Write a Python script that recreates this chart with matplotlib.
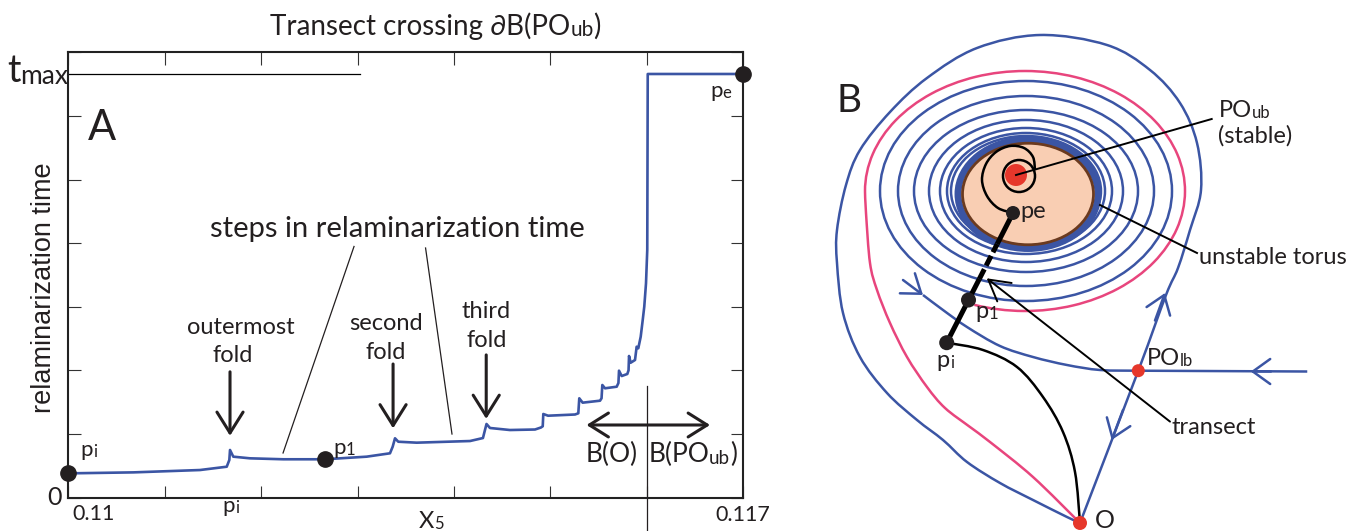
import numpy as np
import matplotlib
matplotlib.use('Agg')
import matplotlib.pyplot as plt
from matplotlib.patches import Ellipse, Arc, PathPatch, Circle
from matplotlib.path import Path

FONT = ['Lato', 'DejaVu Sans']
plt.rcParams['font.family'] = FONT

BLUE = '#3b55a4'
PINK = '#e8457d'
RED = '#e6372b'
DARK = '#231f20'
TORUS_FILL = '#f9ceb3'
TORUS_EDGE = '#6b3a1f'

# ---------------- Panel A data ----------------
x5 = [0.110000, 0.110018, 0.110675, 0.111366, 0.111643, 0.111670, 0.111677, 0.111711,
      0.111884, 0.112230, 0.112662, 0.113094, 0.113336, 0.113364, 0.113388, 0.113422,
      0.113613, 0.114166, 0.114300, 0.114321, 0.114337, 0.114373, 0.114580, 0.114840,
      0.114902, 0.114920, 0.114926, 0.114975, 0.115255, 0.115289, 0.115299, 0.115334,
      0.115514, 0.115530, 0.115538, 0.115566, 0.115687, 0.115705, 0.115711, 0.115739,
      0.115797, 0.115810, 0.115815, 0.115832, 0.115877, 0.115894, 0.115911, 0.115936,
      0.115957, 0.115973, 0.115991, 0.116004, 0.116009, 0.117000]
t_relam = [0.379, 0.380, 0.395, 0.432, 0.484, 0.590, 0.747, 0.642,
           0.616, 0.601, 0.601, 0.642, 0.695, 0.799, 0.931, 0.877,
           0.862, 0.888, 0.935, 1.061, 1.156, 1.093, 1.061, 1.069,
           1.101, 1.120, 1.313, 1.286, 1.305, 1.324, 1.560, 1.491,
           1.522, 1.560, 1.769, 1.717, 1.742, 1.800, 1.994, 1.910,
           1.942, 2.000, 2.225, 2.119, 2.162, 2.371, 2.346, 2.528,
           2.791, 3.000, 3.368, 3.892, 6.659, 6.659]
x_lim = (0.110, 0.117)
y_lim = (0, 7)
x_ticks = [0.110, 0.111, 0.112, 0.113, 0.114, 0.115, 0.116, 0.117]
y_ticks = [0, 1, 2, 3, 4, 5, 6, 7]
t_max = 6.659
tmax_line_end = 0.113025
pt_i = (0.110, 0.379)
pt_1 = (0.112662, 0.605)
pt_e = (0.117, 6.659)
fold_x = [0.111677, 0.113368, 0.114334]
fold_top = [1.976, 2.099, 2.242]
fold_tip = [0.970, 1.087, 1.236]
fold_words = [('outermost', 'fold'), ('second', 'fold'), ('third', 'fold')]
fold_text_x = [(0.111785, 0.111705), (0.113298, 0.113288), (0.114334, 0.114334)]
fold_text_y = [(2.577, 2.125), (2.630, 2.178), (2.818, 2.365)]
basin_boundary = 0.116
basin_arrow = (0.115374, 0.116655, 1.140)
steps_leaders = [((0.112963, 3.947), (0.112227, 0.700)),
                 ((0.113705, 3.923), (0.113979, 0.998))]

# ---------------- Panel B schematic geometry (pixel-like units) ----------------
ring_rx = [146, 128, 112, 97, 86, 79, 75]
ring_ry = [110, 95, 81, 71, 63, 58, 55]
ring_center = (1026, 191)
torus_center = (1028, 194)
torus_size = (131, 101.5)
band_size = (140, 109)
pink_center = (1025, 191)
pink_size = (320, 240)
pink_tail = [(865, 191), (866, 213), (870, 263), (877, 290), (890, 323), (907, 357),
             (927, 387), (945, 408), (970, 427), (990, 442), (1033, 477), (1080, 523)]
outer_loop = [(1080, 523), (1138.3, 370.7), (1166, 295), (1178, 268), (1190, 230),
              (1201, 190), (1197, 143), (1180, 103), (1150, 70), (1107, 45), (1040, 35),
              (977, 48), (927, 78), (890, 112), (860, 150), (846, 185), (837, 230),
              (837, 263), (843, 313), (860, 357), (887, 393), (917, 420), (943, 440),
              (967, 462), (1000, 483), (1033, 500), (1067, 517), (1080, 523)]
stable_in = [(923, 295), (943, 310), (967, 327), (1000, 346), (1033, 357), (1067, 365),
             (1100, 370), (1138.3, 370.7)]
stable_right = [(1138.3, 370.7), (1306, 371.5)]
pi_to_O = [(946.7, 342.7), (983, 350), (1017, 367), (1043, 397), (1063, 432),
           (1075, 472), (1080, 523)]
spiral = [(1013, 213), (998, 208), (987, 196), (982, 180), (986, 164), (996, 152),
          (1010, 146), (1024, 148), (1033, 157), (1035, 170)]
inner_circle = (1019, 176, 16)
PO_ub = (1016, 175)
PO_lb = (1138.3, 370.7)
O_pt = (1080, 523)
B_pi = (946.7, 342.7)
B_p1 = (968.5, 300)
B_pe = (1013, 213)
dash_a = (979.3, 279)
dash_b = (997.2, 244)
# (tip, point behind the tip along the flow)
flow_arrows = [((923, 295), (903, 280)), ((1250.7, 371.5), (1271, 371.5)),
               ((1165, 293), (1155, 320.5)), ((1111.7, 440), (1123, 410))]

W, H = 1350, 531
fig = plt.figure(figsize=(13.5, 5.31), dpi=100)


def fbox(l, t, r, b):
    return [l / W, 1 - b / H, (r - l) / W, (b - t) / H]


def smooth(pts):
    P = np.asarray(pts, float)
    n = len(P)
    verts = [P[0]]
    codes = [Path.MOVETO]
    for i in range(n - 1):
        p0 = P[i - 1] if i > 0 else P[i]
        p1, p2 = P[i], P[i + 1]
        p3 = P[i + 2] if i + 2 < n else P[i + 1]
        verts += [p1 + (p2 - p0) / 6, p2 - (p3 - p1) / 6, p2]
        codes += [Path.CURVE4] * 3
    return Path(verts, codes)


def ptext(ax, x, y, parts, transform=None, color=DARK):
    prev = None
    for s, size in parts:
        if prev is None:
            prev = ax.text(x, y, s, fontsize=size, ha='left', va='baseline',
                           transform=transform if transform is not None else ax.transData,
                           clip_on=False, color=color)
        else:
            prev = ax.annotate(s, xy=(1, 0), xycoords=prev, fontsize=size, ha='left',
                               va='bottom', annotation_clip=False, color=color)
    return prev


# overlay in pixel coords for outside text
ov = fig.add_axes([0, 0, 1, 1])
ov.set_xlim(0, W)
ov.set_ylim(H, 0)
ov.axis('off')

ptext(ov, 270, 35, [('Transect crossing \u2202B(PO', 20), ('ub', 15), (')', 20)])
ptext(ov, 7, 81.7, [('t', 27), ('max', 19)])
ov.text(54, 505, '0', fontsize=18, ha='center', va='baseline', color=DARK)
ov.text(72, 520, '0.11', fontsize=15.5, ha='left', va='baseline', color=DARK)
ov.text(715, 521, '0.117', fontsize=15.5, ha='left', va='baseline', color=DARK)
ptext(ov, 222.7, 512, [('p', 16), ('i', 12)])
ptext(ov, 419, 528, [('X', 17), ('5', 12)])
ov.text(44, 287.5, 'relaminarization time', rotation=90, family='Liberation Sans',
        fontsize=19.5, ha='center', va='center', color=DARK)

# ---------------- Panel A ----------------
axA = fig.add_axes(fbox(68.3, 52.3, 743.3, 497.5))
axA.set_xlim(*x_lim)
axA.set_ylim(*y_lim)
axA.set_xticks(x_ticks)
axA.set_yticks(y_ticks)
axA.set_xticklabels([])
axA.set_yticklabels([])
axA.tick_params(direction='in', length=9, width=0.8, top=True, right=True, color='#333333')
for sp in axA.spines.values():
    sp.set_linewidth(1.5)
    sp.set_color('#222222')

axA.plot(x5, t_relam, color=BLUE, lw=1.9, zorder=3)
axA.plot([x_lim[0], tmax_line_end], [t_max, t_max], color='k', lw=0.9)
for p in (pt_i, pt_1, pt_e):
    axA.plot(*p, 'o', ms=11, color=DARK, zorder=5, clip_on=False)

axA.text(0.110352, 5.62, 'A', fontsize=30, ha='center', va='baseline', color=DARK)
ptext(axA, 0.110122, 0.652, [('p', 16), ('i', 12)])
ptext(axA, 0.112747, 0.684, [('p', 16), ('1', 12)])
ptext(axA, 0.116654, 6.297, [('p', 16), ('e', 12)])

axA.text(0.113408, 4.096, 'steps in relaminarization time', fontsize=21, ha='center',
         va='baseline', color=DARK)
for (a, b) in steps_leaders:
    axA.plot([a[0], b[0]], [a[1], b[1]], color=DARK, lw=0.9)

for fx, ft, ftip, words, tx, ty in zip(fold_x, fold_top, fold_tip, fold_words,
                                       fold_text_x, fold_text_y):
    axA.annotate('', xy=(fx, ftip), xytext=(fx, ft),
                 arrowprops=dict(arrowstyle='->, head_length=15, head_width=9.4',
                                 mutation_scale=1, lw=2.2, color=DARK,
                                 shrinkA=0, shrinkB=0))
    axA.text(tx[0], ty[0], words[0], fontsize=17, ha='center', va='baseline', color=DARK)
    axA.text(tx[1], ty[1], words[1], fontsize=17, ha='center', va='baseline', color=DARK)

axA.plot([basin_boundary, basin_boundary], [1.753, -0.56], color=DARK, lw=0.9,
         clip_on=False)
axA.annotate('', xy=(basin_arrow[1], basin_arrow[2]), xytext=(basin_arrow[0], basin_arrow[2]),
             arrowprops=dict(arrowstyle='<->, head_length=13.7, head_width=8.6',
                             mutation_scale=1, lw=2.2, color=DARK, shrinkA=0, shrinkB=0))
axA.text(0.115631, 0.558, 'B(O)', fontsize=19, ha='center', va='baseline', color=DARK)
ptext(axA, 0.116015, 0.558, [('B(PO', 19), ('ub', 13.5), (')', 19)])

# ---------------- Panel B ----------------
axB = fig.add_axes([790 / W, 0, 560 / W, 1])
axB.set_xlim(790, 1350)
axB.set_ylim(531, 0)
axB.axis('off')

LW = 1.8
axB.add_patch(PathPatch(smooth(outer_loop), fill=False, ec=BLUE, lw=LW))
axB.add_patch(Arc(pink_center, pink_size[0], pink_size[1], theta1=180, theta2=114,
                  ec=PINK, lw=LW))
axB.add_patch(PathPatch(smooth(pink_tail), fill=False, ec=PINK, lw=LW))
for rx, ry in zip(ring_rx, ring_ry):
    axB.add_patch(Ellipse(ring_center, 2 * rx, 2 * ry, fill=False, ec=BLUE, lw=LW))
axB.add_patch(Ellipse(torus_center, band_size[0], band_size[1], fill=False, ec=BLUE, lw=5))
axB.add_patch(Ellipse(torus_center, torus_size[0], torus_size[1], fc=TORUS_FILL,
                      ec=TORUS_EDGE, lw=2, zorder=3))
axB.add_patch(PathPatch(smooth(stable_in), fill=False, ec=BLUE, lw=LW))
axB.plot(*zip(*stable_right), color=BLUE, lw=LW)
for tip, behind in flow_arrows:
    axB.annotate('', xy=tip, xytext=behind,
                 arrowprops=dict(arrowstyle='->, head_length=12.5, head_width=9',
                                 mutation_scale=1, lw=LW, color=BLUE,
                                 shrinkA=0, shrinkB=0))
axB.add_patch(PathPatch(smooth(pi_to_O), fill=False, ec='k', lw=1.8, zorder=4))

# spiral & PO_ub
axB.add_patch(PathPatch(smooth(spiral), fill=False, ec='k', lw=1.8, zorder=4))
axB.add_patch(Circle(inner_circle[:2], inner_circle[2], fill=False, ec='k', lw=1.8, zorder=4))
axB.add_patch(Circle(PO_ub, 11, fc=RED, ec='none', zorder=5))

# transect
axB.plot([B_pi[0], dash_a[0]], [B_pi[1], dash_a[1]], color='k', lw=3.6, zorder=5,
         solid_capstyle='butt')
axB.plot([dash_a[0], dash_b[0]], [dash_a[1], dash_b[1]], color='k', lw=3.6, zorder=5,
         dashes=(2.2, 0.8))
axB.plot([dash_b[0], B_pe[0]], [dash_b[1], B_pe[1]], color='k', lw=3.6, zorder=5,
         solid_capstyle='butt')
for c, r, col in ((B_pi, 7.5, DARK), (B_p1, 7.5, DARK), (B_pe, 7, DARK),
                  (PO_lb, 6.5, RED), (O_pt, 7, RED)):
    axB.add_patch(Circle(c, r, fc=col, ec='none', zorder=6, clip_on=False))

# leaders
axB.plot([PO_ub[0], 1211.7], [PO_ub[1], 119], color='k', lw=1.4, zorder=5)
axB.plot([1100, 1197], [205, 253], color='k', lw=1.4, zorder=5)
axB.annotate('', xy=(986.7, 278.3), xytext=(1170, 421.6),
             arrowprops=dict(arrowstyle='->, head_length=14.8, head_width=8.4',
                             mutation_scale=1, lw=1.4, color='k', shrinkA=0, shrinkB=0),
             zorder=5)

# labels
axB.text(836, 111.7, 'B', fontsize=28, ha='left', va='baseline', color=DARK)
ptext(axB, 1218.6, 117, [('PO', 17), ('ub', 12)])
axB.text(1218, 143, '(stable)', fontsize=17, ha='left', va='baseline', color=DARK)
axB.text(1199, 264, 'unstable torus', fontsize=17, ha='left', va='baseline', color=DARK)
axB.text(1172, 434, 'transect', fontsize=17, ha='left', va='baseline', color=DARK)
axB.text(1020, 218.3, 'pe', fontsize=17, ha='left', va='baseline', color=DARK, zorder=7)
ptext(axB, 975, 318, [('p', 17), ('1', 12)])
ptext(axB, 936.7, 367, [('p', 17), ('i', 12)])
ptext(axB, 1147, 365, [('PO', 17), ('lb', 12)])
axB.text(1095, 528, 'O', fontsize=18, ha='left', va='baseline', color=DARK)

fig.savefig('out.png', dpi=100)
